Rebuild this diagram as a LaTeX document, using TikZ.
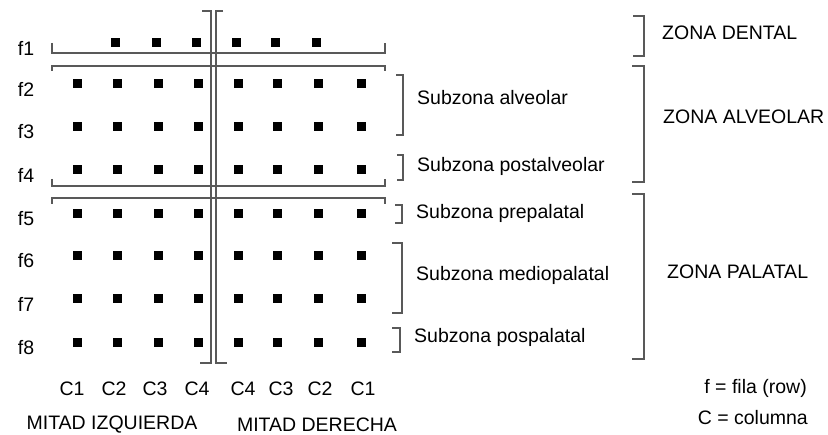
\documentclass[tikz,border=0pt]{standalone}
\usepackage{fontspec}
\setmainfont{Liberation Sans}
\usetikzlibrary{positioning}

\tikzset{
  dot/.style={fill=black, minimum size=9pt, inner sep=0pt},
  lbl/.style={font=\fontsize{19.5}{21}\selectfont, inner sep=0pt},
  brk/.style={draw=black!65, line width=1.1pt},
}

\begin{document}
\begin{tikzpicture}[x=1pt,y=-1pt]
\useasboundingbox[fill=white] (0,0) rectangle (828,435);
\foreach \r/\y in {1/43,2/84,3/127,4/170,5/214,6/256,7/299,8/343}
  \node[lbl] (f\r) at (26,\y+5) {f\r};
\foreach \c/\x in {2/117,3/158,4/198,5/238,6/277,7/318}
  \node[dot] (d1\c) at (\x-2,43) {};
\foreach \r/\y in {2/84,3/127,4/170,5/214,6/256,7/299,8/343}
  \foreach \c/\x in {1/77,2/117,3/158,4/198,5/238,6/277,7/318,8/361}
    \node[dot] (d\r\c) at (\x,\y) {};
\foreach \c/\x/\t in {1/72/C1,2/114/C2,3/155/C3,4/197/C4,5/243/C4,6/281/C3,7/320/C2,8/363/C1}
  \node[lbl] (col\c) at (\x,389) {\t};
\node[lbl] (izq) at (112,425) {MITAD IZQUIERDA};
\node[lbl] (der) at (317,425) {MITAD DERECHA};
\draw[brk] (202,11) -- (211,11) -- (211,363) -- (200,363);
\draw[brk] (223,11) -- (216,11) -- (216,363) -- (227,363);
\draw[brk] (52,43) -- (52,53) -- (385,53) -- (385,43);
\draw[brk] (52,71) -- (52,66) -- (385,66) -- (385,71);
\draw[brk] (52,179) -- (52,186) -- (385,186) -- (385,179);
\draw[brk] (52,204) -- (52,198) -- (385,198) -- (385,204);
\draw[brk] (396,75) -- (403,75) -- (403,135) -- (396,135);
\draw[brk] (397,155) -- (403,155) -- (403,180) -- (397,180);
\draw[brk] (395,205) -- (402,205) -- (402,223) -- (395,223);
\draw[brk] (392,243) -- (402,243) -- (402,313) -- (392,313);
\draw[brk] (392,328) -- (400,328) -- (400,352) -- (392,352);
\node[lbl, anchor=west] (alv) at (417,98) {Subzona alveolar};
\node[lbl, anchor=west] (post) at (417,166) {Subzona postalveolar};
\node[lbl, anchor=west] (pre) at (416,213) {Subzona prepalatal};
\node[lbl, anchor=west] (med) at (416,275) {Subzona mediopalatal};
\node[lbl, anchor=west] (pos) at (414,337) {Subzona pospalatal};
\draw[brk] (633,16) -- (644,16) -- (644,56) -- (633,56);
\draw[brk] (632,66) -- (644,66) -- (644,182) -- (632,182);
\draw[brk] (632,194) -- (644,194) -- (644,359) -- (632,359);
\node[lbl, anchor=west] (zd) at (662,33) {ZONA DENTAL};
\node[lbl, anchor=west] (za) at (663,117) {ZONA ALVEOLAR};
\node[lbl, anchor=west] (zp) at (667,272) {ZONA PALATAL};
\node[lbl, anchor=east] (fila) at (807,388) {f = fila (row)};
\node[lbl, anchor=east] (colm) at (808,418) {C = columna};
\end{tikzpicture}
\end{document}
